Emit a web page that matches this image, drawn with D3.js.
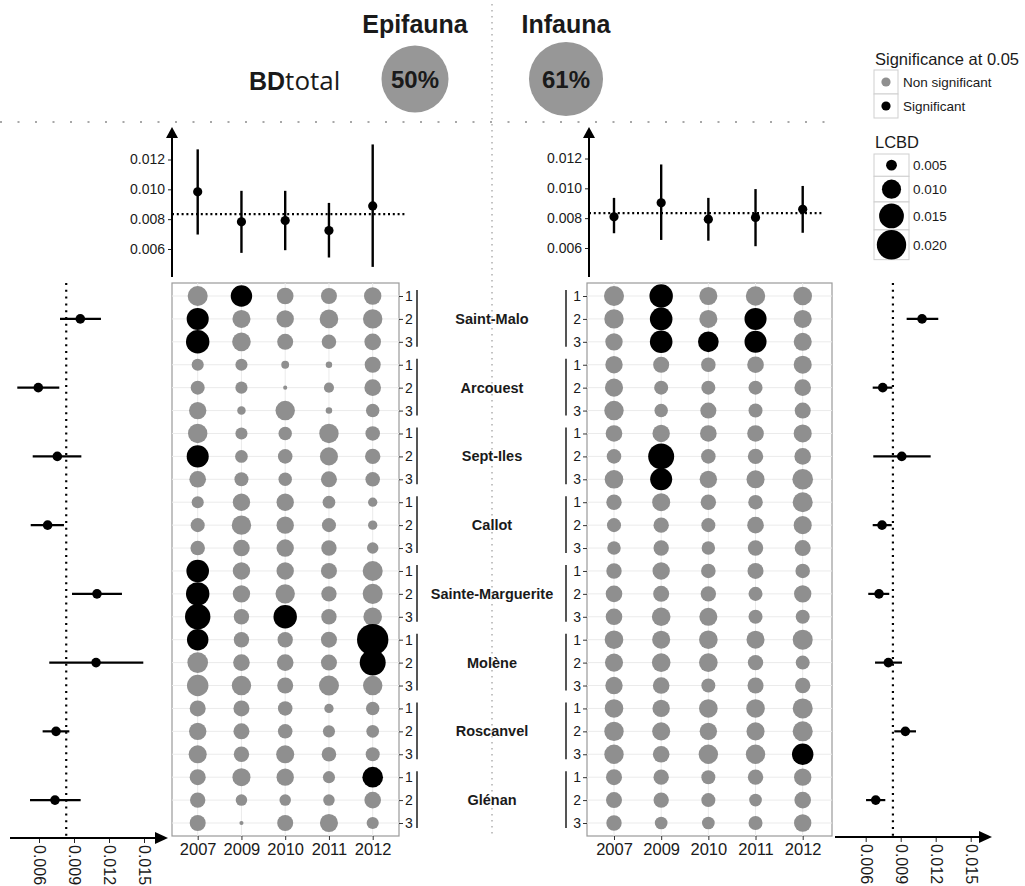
<!DOCTYPE html>
<html><head><meta charset="utf-8">
<script src="https://cdn.jsdelivr.net/npm/d3@7"></script>
<style>body{margin:0;background:#fff} svg{display:block;font-family:"Liberation Sans",Arial,sans-serif}</style>
</head><body><svg id="c" width="1025" height="886"></svg>
<script>
// ---------------- DATA ----------------
const years = ["2007","2009","2010","2011","2012"];
const sites = ["Saint-Malo","Arcouest","Sept-Iles","Callot","Sainte-Marguerite","Molène","Roscanvel","Glénan"];
const replicates = ["1","2","3"];
const faunas = ["Epifauna","Infauna"];
const bdTotal = [50, 61];
const meanLCBD = 1/120;

// LCBD per site-replicate (Saint-Malo 1 ... Glénan 3) per year
const epi2007 = [.0107,.0124,.0137,.0056,.0066,.0087,.0102,.0124,.0082,.0056,.0066,.0069,.0129,.0137,.0156,.0119,.0112,.0119,.0078,.0087,.0092,.0078,.0074,.0078];
const epi2009 = [.0119,.0092,.0096,.0056,.0056,.0041,.0056,.0059,.0066,.0087,.0102,.0082,.0087,.0087,.0074,.0074,.0082,.0102,.0078,.0078,.0074,.0092,.0053,.0030];
const epi2010 = [.0082,.0087,.0078,.0039,.0030,.0102,.0063,.0069,.0063,.0087,.0087,.0087,.0087,.0102,.0137,.0074,.0082,.0078,.0069,.0069,.0092,.0087,.0053,.0078];
const epi2011 = [.0078,.0096,.0069,.0035,.0047,.0035,.0102,.0092,.0078,.0059,.0066,.0074,.0078,.0074,.0074,.0078,.0078,.0107,.0044,.0056,.0069,.0056,.0053,.0092];
const epi2012 = [.0087,.0102,.0082,.0078,.0082,.0063,.0069,.0074,.0069,.0044,.0044,.0053,.0107,.0107,.0096,.0224,.0162,.0102,.0063,.0059,.0066,.0112,.0082,.0056];
const epiSig2007 = [0,1,1,0,0,0,0,1,0,0,0,0,1,1,1,1,0,0,0,0,0,0,0,0];
const epiSig2009 = [1,0,0,0,0,0,0,0,0,0,0,0,0,0,0,0,0,0,0,0,0,0,0,0];
const epiSig2010 = [0,0,0,0,0,0,0,0,0,0,0,0,0,0,1,0,0,0,0,0,0,0,0,0];
const epiSig2011 = [0,0,0,0,0,0,0,0,0,0,0,0,0,0,0,0,0,0,0,0,0,0,0,0];
const epiSig2012 = [0,0,0,0,0,0,0,0,0,0,0,0,0,0,0,1,1,0,0,0,0,1,0,0];

const inf2007 = [.0107,.0102,.0087,.0087,.0092,.0102,.0082,.0069,.0096,.0074,.0066,.0063,.0074,.0082,.0082,.0096,.0092,.0087,.0096,.0102,.0102,.0078,.0078,.0074];
const inf2009 = [.0137,.0129,.0129,.0078,.0066,.0063,.0087,.0162,.0124,.0092,.0074,.0074,.0087,.0078,.0096,.0092,.0096,.0082,.0087,.0092,.0082,.0074,.0074,.0059];
const inf2010 = [.0092,.0092,.0112,.0069,.0066,.0078,.0082,.0069,.0087,.0074,.0066,.0063,.0069,.0074,.0092,.0096,.0096,.0066,.0096,.0087,.0102,.0066,.0066,.0059];
const inf2011 = [.0102,.0124,.0124,.0082,.0066,.0066,.0082,.0074,.0092,.0069,.0082,.0074,.0078,.0066,.0066,.0092,.0074,.0078,.0096,.0092,.0102,.0074,.0059,.0066];
const inf2012 = [.0096,.0092,.0092,.0092,.0082,.0078,.0092,.0082,.0112,.0107,.0092,.0078,.0069,.0087,.0066,.0107,.0066,.0074,.0107,.0107,.0119,.0087,.0082,.0087];
const infSig2007 = [0,0,0,0,0,0,0,0,0,0,0,0,0,0,0,0,0,0,0,0,0,0,0,0];
const infSig2009 = [1,1,1,0,0,0,0,1,1,0,0,0,0,0,0,0,0,0,0,0,0,0,0,0];
const infSig2010 = [0,0,1,0,0,0,0,0,0,0,0,0,0,0,0,0,0,0,0,0,0,0,0,0];
const infSig2011 = [0,1,1,0,0,0,0,0,0,0,0,0,0,0,0,0,0,0,0,0,0,0,0,0];
const infSig2012 = [0,0,0,0,0,0,0,0,0,0,0,0,0,0,0,0,0,0,0,0,1,0,0,0];

// mean LCBD per year with interval
const epiYearMean = [0.00983,0.00782,0.00791,0.00724,0.00889];
const epiYearLow  = [0.00697,0.00574,0.00592,0.00543,0.00480];
const epiYearHigh = [0.01268,0.00990,0.00990,0.00909,0.01301];
const infYearMean = [0.00809,0.00903,0.00793,0.00805,0.00859];
const infYearLow  = [0.00699,0.00654,0.00649,0.00612,0.00702];
const infYearHigh = [0.00936,0.01160,0.00936,0.00995,0.01016];

// mean LCBD per site with interval
const epiSiteMean = [0.00954,0.00594,0.00757,0.00674,0.01097,0.01089,0.00746,0.00737];
const epiSiteLow  = [0.00780,0.00414,0.00546,0.00529,0.00883,0.00688,0.00631,0.00523];
const epiSiteHigh = [0.01131,0.00774,0.00963,0.00814,0.01311,0.01494,0.00860,0.00957];
const infSiteMean = [0.01083,0.00746,0.00909,0.00740,0.00714,0.00794,0.00940,0.00686];
const infSiteLow  = [0.00951,0.00660,0.00665,0.00660,0.00622,0.00680,0.00845,0.00603];
const infSiteHigh = [0.01222,0.00828,0.01157,0.00823,0.00802,0.00911,0.01031,0.00768];

const topTicks = [0.006,0.008,0.010,0.012];
const sideTicks = [0.006,0.009,0.012,0.015];
const legendSizes = [0.005,0.010,0.015,0.020];
const sigLabels = ["Non significant","Significant"];

// ---------------- DRAW ----------------
const svg = d3.select("#c");
const GRAY = "#8f8f8f", TXT = "#1a1a1a";
const FONT = "'Liberation Sans',Arial,sans-serif";
const rowKeys = sites.flatMap(s => replicates.map(r => s + "|" + r));
const yRow = d3.scalePoint().domain(rowKeys).range([296, 823]);
const rScale = d3.scaleRadial().domain([0.005, 0.020]).range([5.4, 14.7]);
const boxTop = 283, boxBot = 836;

const panels = [
  {vals:[epi2007,epi2009,epi2010,epi2011,epi2012], sig:[epiSig2007,epiSig2009,epiSig2010,epiSig2011,epiSig2012],
   ym:epiYearMean, yl:epiYearLow, yh:epiYearHigh, sm:epiSiteMean, sl:epiSiteLow, sh:epiSiteHigh,
   box:[172,399], cols:[197.7,372.7], topRange:[249,159.5], axisX:172, meanEnd:407,
   side:[39,144], sideAxisY:838, sideStart:10, sideEnd:168, labSide:"right"},
  {vals:[inf2007,inf2009,inf2010,inf2011,inf2012], sig:[infSig2007,infSig2009,infSig2010,infSig2011,infSig2012],
   ym:infYearMean, yl:infYearLow, yh:infYearHigh, sm:infSiteMean, sl:infSiteLow, sh:infSiteHigh,
   box:[587,832], cols:[614,802.7], topRange:[248,158.5], axisX:589, meanEnd:823,
   side:[865.7,970.7], sideAxisY:837, sideStart:835, sideEnd:992, labSide:"left"}
];

// guide dotted lines
svg.append("line").attr("x1",0).attr("x2",840).attr("y1",122).attr("y2",122)
  .attr("stroke","#a8a8a8").attr("stroke-width",2).attr("stroke-dasharray","2,15.5");
svg.append("line").attr("x1",492).attr("x2",492).attr("y1",4).attr("y2",838)
  .attr("stroke","#b0b0b0").attr("stroke-width",1.5).attr("stroke-dasharray","1.5,4.5");

// Titles
const bdR = d3.scaleSqrt().domain([0,100]).range([0,47.4]);
const titleX = [415, 566];
faunas.forEach((f,i)=>{
  svg.append("text").attr("x",titleX[i]).attr("y",33).attr("text-anchor","middle")
    .attr("font-size",25).attr("font-weight","bold").attr("fill",TXT).text(f);
  svg.append("circle").attr("cx",titleX[i]).attr("cy",79).attr("r",bdR(bdTotal[i])).attr("fill","#979797");
  svg.append("text").attr("x",titleX[i]).attr("y",88).attr("text-anchor","middle")
    .attr("font-size",24).attr("font-weight","bold").attr("fill",TXT).text(bdTotal[i]+"%");
});
const bd = svg.append("text").attr("x",249).attr("y",90).attr("fill",TXT);
bd.append("tspan").attr("font-weight","bold").attr("font-size",25).text("BD");
bd.append("tspan").attr("font-size",26).attr("font-family","'Open Sans',sans-serif").text("total");

function arrowUp(x,y){ svg.append("path").attr("d",`M${x},${y} L${x-6},${y+11} L${x+6},${y+11} Z`).attr("fill","#000"); }
function arrowRight(x,y){ svg.append("path").attr("d",`M${x},${y} L${x-13},${y-6} L${x-13},${y+6} Z`).attr("fill","#000"); }

panels.forEach((p,pi)=>{
  const x = d3.scalePoint().domain(years).range(p.cols);
  // ---- dot panel ----
  svg.append("rect").attr("x",p.box[0]).attr("y",boxTop).attr("width",p.box[1]-p.box[0]).attr("height",boxBot-boxTop)
    .attr("fill","#fff").attr("stroke","#9a9a9a").attr("stroke-width",1.2);
  const g = svg.append("g");
  g.selectAll(".hg").data(rowKeys).join("line").attr("x1",p.box[0]).attr("x2",p.box[1])
    .attr("y1",d=>yRow(d)).attr("y2",d=>yRow(d)).attr("stroke","#ebebeb").attr("stroke-width",1);
  g.selectAll(".vg").data(years).join("line").attr("x1",d=>x(d)).attr("x2",d=>x(d))
    .attr("y1",boxTop).attr("y2",boxBot).attr("stroke","#ebebeb").attr("stroke-width",1);
  const cells = [];
  years.forEach((yr,yi)=> rowKeys.forEach((k,ri)=> cells.push({yr,k,v:p.vals[yi][ri],s:p.sig[yi][ri]})));
  g.selectAll("circle").data(cells).join("circle")
    .attr("cx",d=>x(d.yr)).attr("cy",d=>yRow(d.k)).attr("r",d=>rScale(d.v))
    .attr("fill",d=>d.s? "#000": GRAY);
  // x axis
  const xa = svg.append("g").attr("transform",`translate(0,${boxBot})`)
    .call(d3.axisBottom(x).tickSize(4).tickPadding(3));
  xa.select(".domain").remove();
  xa.selectAll("line").attr("stroke","#333");
  xa.selectAll("text").attr("font-size",16.5).attr("fill",TXT).attr("font-family",FONT);
  // row labels
  const ya = svg.append("g").attr("transform",`translate(${p.labSide==="right"?p.box[1]:p.box[0]},0)`)
    .call((p.labSide==="right"? d3.axisRight(yRow): d3.axisLeft(yRow)).tickSize(4).tickPadding(2).tickFormat(d=>d.split("|")[1]));
  ya.select(".domain").remove();
  ya.selectAll("line").attr("stroke","#333");
  ya.selectAll("text").attr("font-size",14).attr("fill",TXT).attr("font-family",FONT);
  const barX = p.labSide==="right" ? 417 : 566;
  sites.forEach(s=>{
    svg.append("line").attr("x1",barX).attr("x2",barX)
      .attr("y1",yRow(s+"|1")-6).attr("y2",yRow(s+"|3")+5).attr("stroke","#555").attr("stroke-width",2);
  });

  // ---- top panel ----
  const yT = d3.scaleLinear().domain([0.006,0.012]).range(p.topRange);
  const ta = svg.append("g").attr("transform",`translate(${p.axisX},0)`)
    .call(d3.axisLeft(yT).tickValues(topTicks).tickFormat(d3.format(".3f")).tickSize(4).tickPadding(3));
  ta.select(".domain").remove();
  ta.selectAll("line").attr("stroke","#222");
  ta.selectAll("text").attr("font-size",14).attr("fill",TXT).attr("font-family",FONT);
  svg.append("line").attr("x1",p.axisX).attr("x2",p.axisX).attr("y1",277).attr("y2",134).attr("stroke","#000").attr("stroke-width",2);
  arrowUp(p.axisX,127);
  svg.append("line").attr("x1",p.axisX).attr("x2",p.meanEnd).attr("y1",yT(meanLCBD)).attr("y2",yT(meanLCBD))
    .attr("stroke","#000").attr("stroke-width",2.2).attr("stroke-dasharray","2,2.8");
  years.forEach((yr,i)=>{
    svg.append("line").attr("x1",x(yr)).attr("x2",x(yr)).attr("y1",yT(p.yl[i])).attr("y2",yT(p.yh[i]))
      .attr("stroke","#000").attr("stroke-width",2.4);
    svg.append("circle").attr("cx",x(yr)).attr("cy",yT(p.ym[i])).attr("r",4.6).attr("fill","#000");
  });

  // ---- side panel ----
  const xs = d3.scaleLinear().domain([0.006,0.015]).range(p.side);
  svg.append("line").attr("x1",xs(meanLCBD)).attr("x2",xs(meanLCBD)).attr("y1",boxTop).attr("y2",p.sideAxisY)
    .attr("stroke","#000").attr("stroke-width",2.2).attr("stroke-dasharray","2,4.8");
  sites.forEach((s,i)=>{
    const yy = yRow(s+"|2");
    svg.append("line").attr("x1",xs(p.sl[i])).attr("x2",xs(p.sh[i])).attr("y1",yy).attr("y2",yy)
      .attr("stroke","#000").attr("stroke-width",2.2);
    svg.append("circle").attr("cx",xs(p.sm[i])).attr("cy",yy).attr("r",4.8).attr("fill","#000");
  });
  const sa = svg.append("g").attr("transform",`translate(0,${p.sideAxisY})`)
    .call(d3.axisBottom(xs).tickValues(sideTicks).tickFormat(d3.format(".3f")).tickSize(5));
  sa.select(".domain").remove();
  sa.selectAll("line").attr("stroke","#222");
  sa.selectAll("text").attr("font-size",16).attr("fill",TXT).attr("font-family",FONT)
    .attr("transform","rotate(90)").attr("x",7).attr("y",0).attr("dy","0.35em").style("text-anchor","start");
  svg.append("line").attr("x1",p.sideStart).attr("x2",p.sideEnd-10).attr("y1",p.sideAxisY).attr("y2",p.sideAxisY)
    .attr("stroke","#000").attr("stroke-width",2);
  arrowRight(p.sideEnd,p.sideAxisY);
});

// site names
sites.forEach(s=>{
  svg.append("text").attr("x",492).attr("y",yRow(s+"|2")+5).attr("text-anchor","middle")
    .attr("font-size",14.5).attr("font-weight","bold").attr("fill",TXT).text(s);
});

// ---------------- LEGEND ----------------
const lg = svg.append("g");
lg.append("text").attr("x",875).attr("y",65).attr("font-size",16.5).attr("fill",TXT).text("Significance at 0.05");
sigLabels.forEach((l,i)=>{
  const y0 = 70 + i*24;
  lg.append("rect").attr("x",874).attr("y",y0).attr("width",24).attr("height",24).attr("fill","#fff").attr("stroke","#cfcfcf");
  lg.append("circle").attr("cx",886).attr("cy",y0+12).attr("r",4.6).attr("fill",i? "#000":GRAY);
  lg.append("text").attr("x",903).attr("y",y0+17).attr("font-size",13.5).attr("fill",TXT).text(l);
});
lg.append("text").attr("x",875).attr("y",148).attr("font-size",16.5).attr("fill",TXT).text("LCBD");
let ly = 154;
legendSizes.forEach(v=>{
  const r = rScale(v), h = 18 + 0.8*r;
  lg.append("rect").attr("x",874).attr("y",ly).attr("width",35).attr("height",h).attr("fill","#fff").attr("stroke","#cfcfcf");
  lg.append("circle").attr("cx",891.5).attr("cy",ly+h/2).attr("r",r).attr("fill","#000");
  lg.append("text").attr("x",913).attr("y",ly+h/2+5).attr("font-size",13.5).attr("fill",TXT).text(d3.format(".3f")(v));
  ly += h;
});
</script></body></html>
